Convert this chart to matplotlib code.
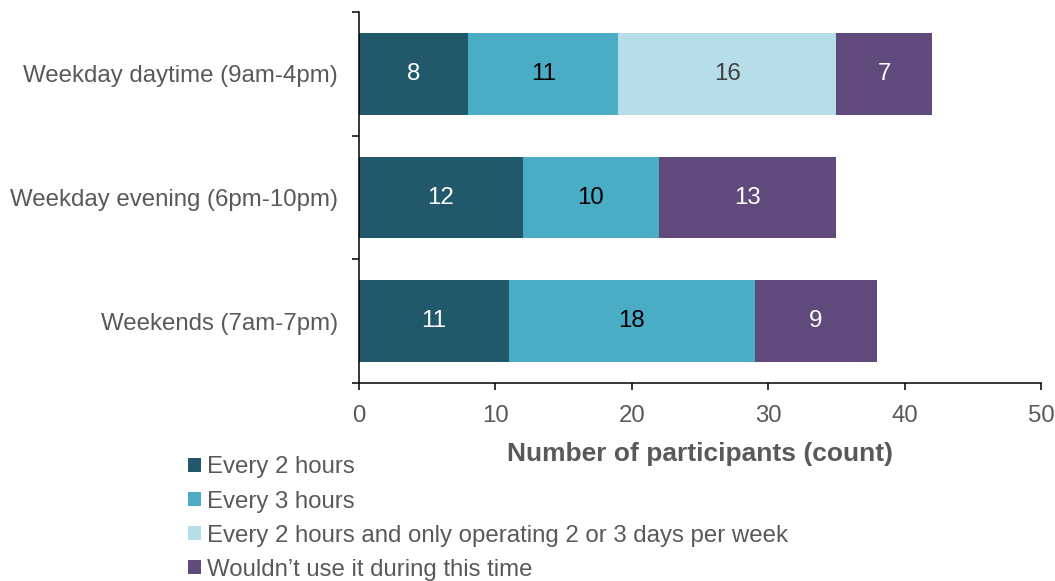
import matplotlib.pyplot as plt
import numpy as np

plt.rcParams["font.family"] = ["Liberation Sans", "DejaVu Sans"]

# 每个时段的参与人数
periods = ["Weekday daytime (9am-4pm)", "Weekday evening (6pm-10pm)", "Weekends (7am-7pm)"]
series_names = ["Every 2 hours", "Every 3 hours",
                "Every 2 hours and only operating 2 or 3 days per week",
                "Wouldn\u2019t use it during this time"]
every_2h = [8, 12, 11]
every_3h = [11, 10, 18]
every_2h_limited = [16, 0, 0]
wouldnt_use = [7, 13, 9]

colors = ["#22596a", "#4bacc6", "#b7dde8", "#604a7b"]
text_colors = ["white", "black", "#404040", "white"]
grey = "#595959"


def main():
    fig = plt.figure(figsize=(10.55, 5.81), dpi=100)
    ax = fig.add_axes([0.3403, 0.3408, 0.6464, 0.6385])

    y = np.arange(len(periods))
    left = np.zeros(len(periods))
    for vals, name, c, tc in zip([every_2h, every_3h, every_2h_limited, wouldnt_use],
                                 series_names, colors, text_colors):
        vals = np.array(vals, dtype=float)
        bars = ax.barh(y, vals, left=left, height=0.66, color=c, label=name)
        labels = [str(int(v)) if v > 0 else "" for v in vals]
        ax.bar_label(bars, labels=labels, label_type="center", color=tc, fontsize=17.3)
        left += vals

    ax.set_xlim(0, 50)
    ax.set_ylim(2.5, -0.5)
    ax.set_xticks(range(0, 51, 10))

    # 刻度线放在类别分界处，标签放在中间
    ax.set_yticks([-0.5, 0.5, 1.5, 2.5])
    ax.set_yticklabels([])
    ax.set_yticks(y, minor=True)
    ax.set_yticklabels(periods, minor=True)
    ax.tick_params(axis="y", which="major", direction="out", length=5, width=1.1)
    ax.tick_params(axis="y", which="minor", length=0, pad=15, labelsize=17.3, labelcolor=grey)
    ax.tick_params(axis="x", direction="out", length=5, width=1.1, pad=10.5,
                   labelsize=17.3, labelcolor=grey)

    for s in ["top", "right"]:
        ax.spines[s].set_visible(False)
    for s in ["left", "bottom"]:
        ax.spines[s].set_linewidth(1.1)

    ax.set_xlabel("Number of participants (count)", fontsize=19, fontweight="bold",
                  color=grey, labelpad=11)

    fig.legend(loc="upper left", bbox_to_anchor=(0.1784, 0.2143), frameon=False,
               fontsize=17.3, labelcolor=grey, handlelength=0.55, handleheight=0.55,
               handletextpad=0.25, labelspacing=0.5, borderpad=0, borderaxespad=0)

    fig.savefig("out.png", dpi=100)


if __name__ == "__main__":
    main()
